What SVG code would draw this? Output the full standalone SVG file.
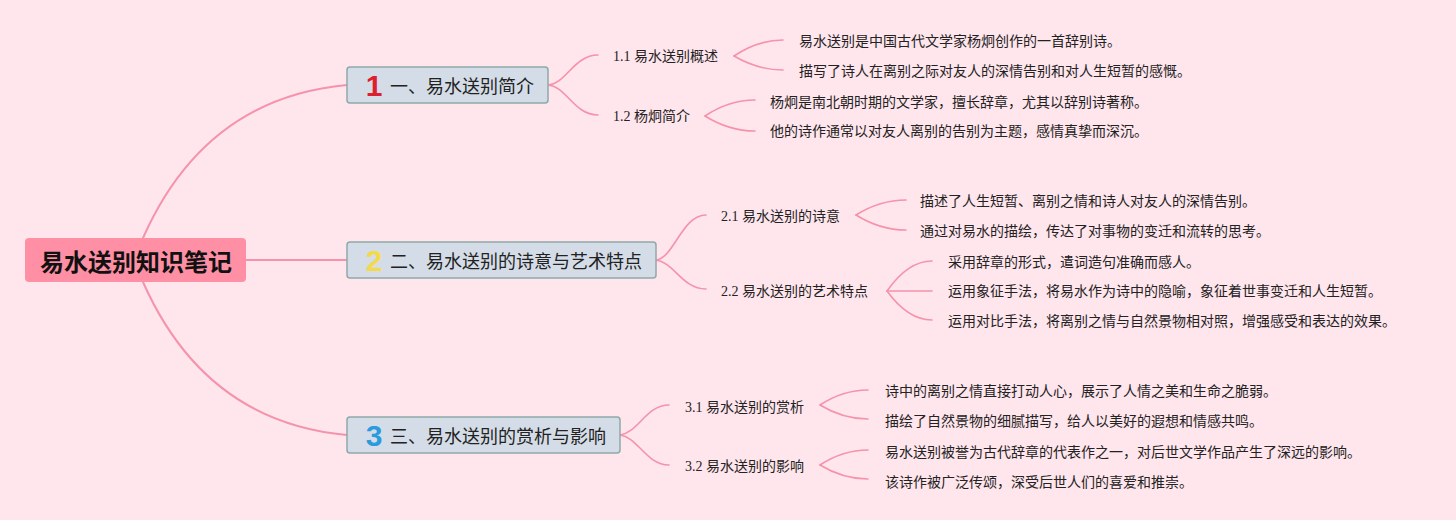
<svg xmlns="http://www.w3.org/2000/svg" width="1456" height="520" viewBox="0 0 1456 520">
<style>
.bg{fill:#FFE5EC}
.con{fill:none;stroke:#F592AC;stroke-width:1.6;stroke-linecap:round}
.main{fill:none;stroke:#F592AC;stroke-width:2;stroke-linecap:round}
.box{fill:#D4DDE7;stroke:#8FA9A8;stroke-width:1.5}
.root{fill:#FF8FA4}
.rt{font-family:"Noto Sans CJK SC","Liberation Sans",sans-serif;font-weight:700;font-size:24px;fill:#111;text-anchor:middle;dominant-baseline:central}
.bt{font-family:"Noto Sans CJK SC","Liberation Sans",sans-serif;font-size:18px;fill:#222;dominant-baseline:central}
.num{font-family:"Liberation Sans","DejaVu Sans",sans-serif;font-weight:700;font-size:30px;text-anchor:middle;dominant-baseline:central}
.st{font-family:"Liberation Serif","Noto Sans CJK SC",serif;font-size:14px;fill:#222;dominant-baseline:central}
.lt{font-family:"Liberation Serif","Noto Sans CJK SC",serif;font-size:14px;fill:#222;dominant-baseline:central}
</style>
<rect class="bg" x="0" y="0" width="1456" height="520"/>
<g id="connectors">
<path class="main" d="M143,238 Q205,98 347,85"/>
<path class="main" d="M246,260 L347,260"/>
<path class="main" d="M143,282 Q205,422 347,435"/>
<path class="con" d="M548,85 C566,84 574,55 598,55"/>
<path class="con" d="M548,85 C566,86 574,115 598,115"/>
<path class="con" d="M656,260 C674,258 682,215 706,215"/>
<path class="con" d="M656,260 C674,262 682,289 706,289"/>
<path class="con" d="M620,435 C638,433 646,405 669,405"/>
<path class="con" d="M620,435 C638,437 646,465 669,465"/>
<path class="con" d="M734,56 Q758,40 783,40"/>
<path class="con" d="M734,56 Q758,70 783,70"/>
<path class="con" d="M705,116 Q729,100 755,100"/>
<path class="con" d="M705,116 Q729,131 755,131"/>
<path class="con" d="M856,215 Q880,200 906,200"/>
<path class="con" d="M856,215 Q880,230 906,230"/>
<path class="con" d="M887,291 Q908,261 932,261"/>
<path class="con" d="M887,291 L932,291"/>
<path class="con" d="M887,291 Q908,320 932,320"/>
<path class="con" d="M820,405 Q843,390 868,390"/>
<path class="con" d="M820,405 Q843,419 868,419"/>
<path class="con" d="M820,465 Q843,450 868,450"/>
<path class="con" d="M820,465 Q843,479 868,479"/>
</g>
<g id="root">
<rect class="root" x="25" y="238" width="221" height="44" rx="4"/>
<text class="rt" x="136" y="260">易水送别知识笔记</text>
</g>
<g id="b1">
<rect class="box" x="347" y="67" width="201" height="36" rx="3"/>
<text class="num" x="374" y="85" fill="#DD1F2F">1</text>
<text class="bt" x="390" y="85">一、易水送别简介</text>
</g>
<g id="b2">
<rect class="box" x="347" y="242" width="309" height="36" rx="3"/>
<text class="num" x="374" y="260" fill="#F4DA4A">2</text>
<text class="bt" x="390" y="260">二、易水送别的诗意与艺术特点</text>
</g>
<g id="b3">
<rect class="box" x="347" y="417" width="273" height="36" rx="3"/>
<text class="num" x="374" y="435" fill="#2A9BDF">3</text>
<text class="bt" x="390" y="435">三、易水送别的赏析与影响</text>
</g>
<g id="s11"><text class="st" x="613" y="56">1.1 易水送别概述</text></g>
<g id="s12"><text class="st" x="613" y="116">1.2 杨炯简介</text></g>
<g id="s21"><text class="st" x="721" y="216">2.1 易水送别的诗意</text></g>
<g id="s22"><text class="st" x="721" y="291">2.2 易水送别的艺术特点</text></g>
<g id="s31"><text class="st" x="685" y="407">3.1 易水送别的赏析</text></g>
<g id="s32"><text class="st" x="685" y="466">3.2 易水送别的影响</text></g>
<g id="l111"><text class="lt" x="799" y="41">易水送别是中国古代文学家杨炯创作的一首辞别诗。</text></g>
<g id="l112"><text class="lt" x="799" y="71">描写了诗人在离别之际对友人的深情告别和对人生短暂的感慨。</text></g>
<g id="l121"><text class="lt" x="770" y="102">杨炯是南北朝时期的文学家，擅长辞章，尤其以辞别诗著称。</text></g>
<g id="l122"><text class="lt" x="770" y="131">他的诗作通常以对友人离别的告别为主题，感情真挚而深沉。</text></g>
<g id="l211"><text class="lt" x="920" y="201">描述了人生短暂、离别之情和诗人对友人的深情告别。</text></g>
<g id="l212"><text class="lt" x="920" y="231">通过对易水的描绘，传达了对事物的变迁和流转的思考。</text></g>
<g id="l221"><text class="lt" x="948" y="262">采用辞章的形式，遣词造句准确而感人。</text></g>
<g id="l222"><text class="lt" x="948" y="291">运用象征手法，将易水作为诗中的隐喻，象征着世事变迁和人生短暂。</text></g>
<g id="l223"><text class="lt" x="948" y="321">运用对比手法，将离别之情与自然景物相对照，增强感受和表达的效果。</text></g>
<g id="l311"><text class="lt" x="885" y="391">诗中的离别之情直接打动人心，展示了人情之美和生命之脆弱。</text></g>
<g id="l312"><text class="lt" x="885" y="421">描绘了自然景物的细腻描写，给人以美好的遐想和情感共鸣。</text></g>
<g id="l321"><text class="lt" x="885" y="452">易水送别被誉为古代辞章的代表作之一，对后世文学作品产生了深远的影响。</text></g>
<g id="l322"><text class="lt" x="885" y="482">该诗作被广泛传颂，深受后世人们的喜爱和推崇。</text></g>
</svg>
